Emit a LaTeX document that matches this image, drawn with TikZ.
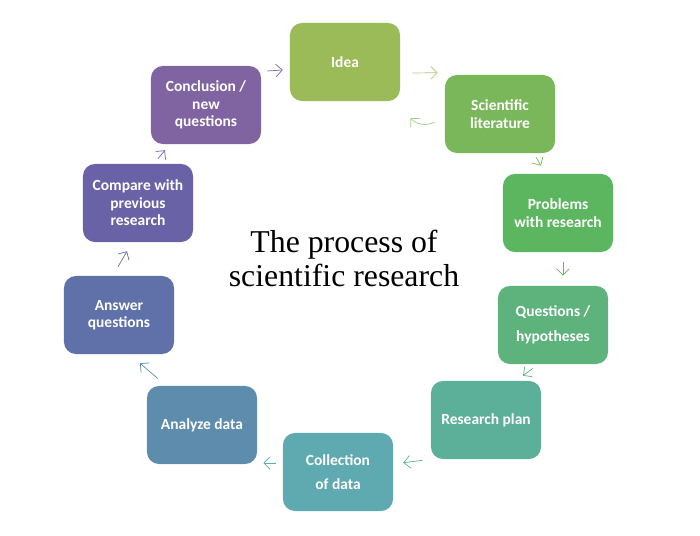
\documentclass[tikz,border=0pt]{standalone}
\usepackage{fontspec}
\setmainfont{Liberation Serif}
\newfontfamily\boxfont{Carlito}
\usepackage{xcolor}
\usetikzlibrary{arrows.meta, positioning, calc}
\definecolor{rsidea}{HTML}{9BBB59}
\definecolor{rslit}{HTML}{79B75A}
\definecolor{rsprob}{HTML}{5CB660}
\definecolor{rsquest}{HTML}{5DB37B}
\definecolor{rsplan}{HTML}{5CAF98}
\definecolor{rscoll}{HTML}{5FA9B0}
\definecolor{rsanal}{HTML}{5E8CAC}
\definecolor{rsansw}{HTML}{6070A8}
\definecolor{rscomp}{HTML}{6962A7}
\definecolor{rsconcl}{HTML}{8064A2}

\begin{document}
\begin{tikzpicture}[x=0.025cm, y=-0.025cm,
  stage/.style={rectangle, rounded corners=0.3cm, minimum width=2.75cm,
    minimum height=1.95cm, inner sep=1pt, align=center, text=white,
    font=\boxfont\bfseries\fontsize{11}{12.5}\selectfont},
  wide/.style={font=\boxfont\bfseries\fontsize{11}{17.5}\selectfont},
  flow/.style={-{Straight Barb[length=4.5pt, width=9pt]}, line width=0.5pt}]
  \useasboundingbox (0,0) rectangle (700,536);
  % Stages of the cycle
  \node[stage, fill=rsidea] (idea) at (345,62) {Idea};
  \node[stage, fill=rslit] (lit) at (500,114) {Scientific\\literature};
  \node[stage, fill=rsprob] (prob) at (558,213) {Problems\\with research};
  \node[stage, wide, fill=rsquest] (quest) at (553,325) {Questions /\\hypotheses};
  \node[stage, fill=rsplan] (plan) at (486,420) {Research plan};
  \node[stage, wide, fill=rscoll] (coll) at (338,472) {Collection\\of data};
  \node[stage, fill=rsanal] (anal) at (202,425) {Analyze data};
  \node[stage, fill=rsansw] (answ) at (119,315) {Answer\\questions};
  \node[stage, fill=rscomp] (comp) at (138,203) {Compare with\\previous\\research};
  \node[stage, fill=rsconcl] (concl) at (206,105) {Conclusion /\\new\\questions};
  % Title in the middle
  \node[inner sep=0pt, align=center, font=\fontsize{22.6}{24.3}\selectfont]
    (title) at (344,258.5) {The process of\\scientific research};
  % Arrows between stages
  \draw[flow, rsidea!80] ([shift={(12,11)}]idea.east) -- ([shift={(-7,-2)}]lit.north west);
  \draw[flow, rslit!70] ([shift={(-10,8)}]lit.west) to[bend left=35] ([shift={(10,17)}]idea.south east);
  \draw[flow, rslit] ([shift={(36,4)}]lit.south) -- ([shift={(-17,-8)}]prob.north);
  \draw[flow, rsprob] ([shift={(5,10)}]prob.south) -- ([shift={(10,-10)}]quest.north);
  \draw[flow, rsquest] ([shift={(-20,4)}]quest.south) -- ([shift={(37,-5)}]plan.north);
  \draw[flow, rsplan] ([shift={(-8,1)}]plan.south west) -- ([shift={(10,30)}]coll.north east);
  \draw[flow, rscoll] ([shift={(-7,-9)}]coll.west) -- ([shift={(6,38)}]anal.east);
  \draw[flow, rsanal] ([shift={(-44,-7)}]anal.north) -- ([shift={(21,9)}]answ.south);
  \draw[flow, rsansw] ([shift={(-1,-9)}]answ.north) -- ([shift={(-11,9)}]comp.south);
  \draw[flow, rscomp] ([shift={(20,-5)}]comp.north) -- ([shift={(-41,6)}]concl.south);
  \draw[flow, rsconcl] ([shift={(6,-34)}]concl.east) -- ([shift={(-7,8)}]idea.west);
\end{tikzpicture}
\end{document}
